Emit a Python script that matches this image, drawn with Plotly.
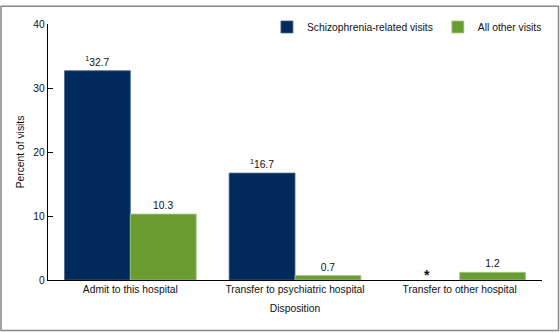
import plotly.graph_objects as go

categories = ["Admit to this hospital", "Transfer to psychiatric hospital", "Transfer to other hospital"]
schizo = [32.7, 16.7, None]
schizo_text = ["<sup>1</sup>32.7", "<sup>1</sup>16.7", ""]
other = [10.3, 0.7, 1.2]
other_text = ["10.3", "0.7", "1.2"]
y_ticks = [0, 10, 20, 30, 40]

FONT = "Liberation Sans, Arial, sans-serif"
BLUE = "#002b5c"
GREEN = "#6a9c31"
FS = 10.3

fig = go.Figure()
fig.add_trace(go.Bar(
    x=categories, y=schizo, name="Schizophrenia-related visits",
    marker=dict(color=BLUE, line=dict(color="#4a6488", width=0.8)),
    text=schizo_text, textposition="outside", cliponaxis=False,
    textfont=dict(size=FS, color="#111", family=FONT),
))
fig.add_trace(go.Bar(
    x=categories, y=other, name="All other visits",
    marker=dict(color=GREEN, line=dict(color="#a8c880", width=0.8)),
    text=other_text, textposition="outside", cliponaxis=False,
    textfont=dict(size=FS, color="#111", family=FONT),
))

fig.add_annotation(x=categories[2], y=0, xref="x", yref="y", text="<b>*</b>",
                   showarrow=False, xshift=-33, yanchor="bottom", yshift=-5,
                   font=dict(size=14, color="#111", family=FONT))

fig.add_shape(type="rect", xref="paper", yref="paper",
              x0=-0.0951, x1=1.0334, y0=-0.197, y1=1.069,
              line=dict(color="#888888", width=1.5))

fig.update_layout(
    width=560, height=333,
    margin=dict(l=48, r=18, t=19, b=53),
    paper_bgcolor="white", plot_bgcolor="white",
    font=dict(family=FONT, size=FS, color="#111"),
    barmode="group", bargap=0.2, bargroupgap=0.0,
    showlegend=True,
    legend=dict(orientation="h", x=1.01, xanchor="right", y=1.045, yanchor="top",
                font=dict(size=FS, family=FONT), itemwidth=30, traceorder="normal",
                bgcolor="rgba(0,0,0,0)"),
    xaxis=dict(showline=True, linecolor="black", linewidth=1.2, ticks="",
               title=dict(text="Disposition", standoff=10, font=dict(size=FS)),
               tickfont=dict(size=FS)),
    yaxis=dict(range=[0, 40], tickvals=y_ticks, showline=True, linecolor="black",
               linewidth=1.2, ticks="inside", ticklen=5, tickcolor="black",
               showgrid=False, zeroline=False,
               title=dict(text="Percent of visits", standoff=6, font=dict(size=FS)),
               tickfont=dict(size=FS)),
)

fig.write_html("out.html")
